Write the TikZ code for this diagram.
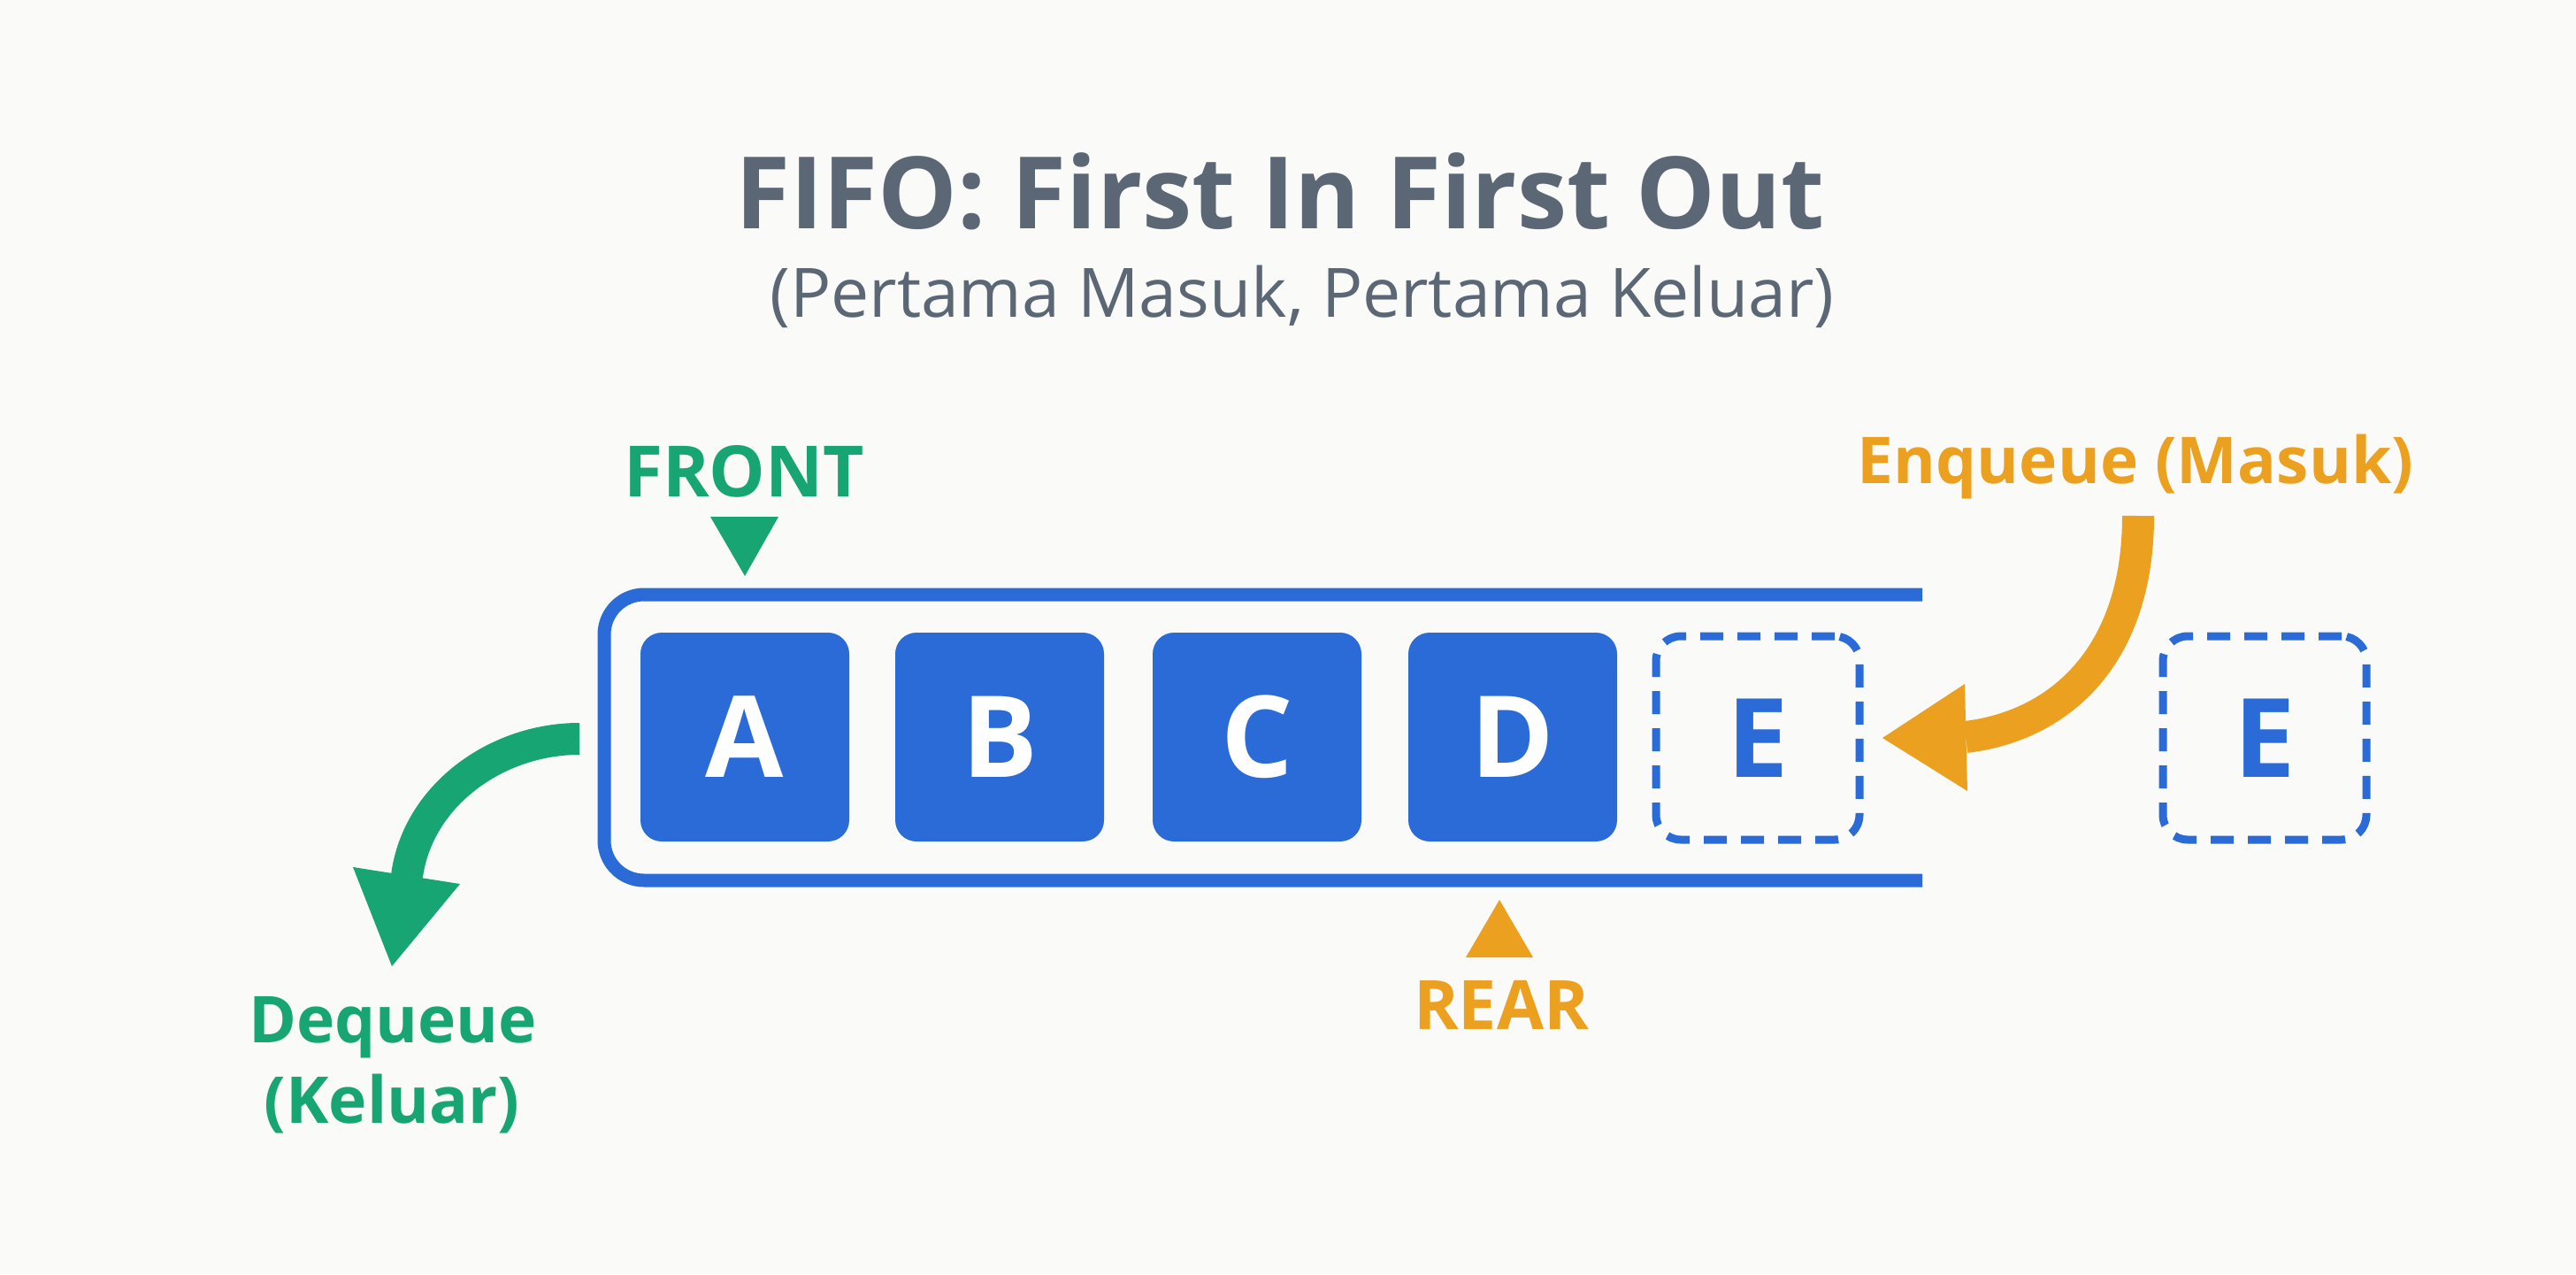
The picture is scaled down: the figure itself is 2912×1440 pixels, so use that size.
\documentclass[tikz,border=0pt]{standalone}
\usepackage{fontspec}
\setmainfont{Open Sans}
\definecolor{qblue}{HTML}{2B6BD8}
\definecolor{qgreen}{HTML}{17A673}
\definecolor{qorange}{HTML}{EBA01F}
\definecolor{qgray}{HTML}{5C6776}
\definecolor{qbg}{HTML}{FAFAF8}
\begin{document}
\begin{tikzpicture}[x=1pt,y=-1pt,
  cell/.style={fill=qblue, rounded corners=24pt, minimum width=236pt, minimum height=236pt, inner sep=0pt, text=white, font=\fontsize{128}{128}\selectfont\bfseries},
  ghost/.style={draw=qblue, line width=9pt, dash pattern=on 26pt off 16pt, rounded corners=28pt, minimum width=230pt, minimum height=230pt, inner sep=0pt, text=qblue, font=\fontsize{124}{124}\selectfont\bfseries},
  lbl/.style={anchor=base, inner sep=0pt, font=\fontsize{#1}{#1}\selectfont\bfseries},
  shaft/.style={line width=36pt, line cap=butt}
]
\fill[qbg] (0,0) rectangle (2912,1440);
\useasboundingbox (0,0) rectangle (2912,1440);

% title
\node[anchor=base, inner sep=0pt, text=qgray, font=\fontsize{113}{113}\selectfont\bfseries] (title) at (1447,258) {FIFO: First In First Out};
\node[anchor=base, inner sep=0pt, text=qgray, font=\fontsize{77}{77}\selectfont] (sub) at (1472,358) {(Pertama Masuk, Pertama Keluar)};

% container
\draw[qblue, line width=15pt, rounded corners=45pt] (2173,672) -- (683,672) -- (683,995) -- (2173,995);

% cells
\node[cell] (A) at (842,833) {A};
\node[cell] (B) at (1130,833) {B};
\node[cell] (C) at (1421,833) {C};
\node[cell] (D) at (1710,833) {D};
\node[ghost] (E1) at (1987,834) {E};
\node[ghost] (E2) at (2560,834) {E};

% FRONT
\node[lbl=80, text=qgreen] (front) at (841,561) {FRONT};
\fill[qgreen] (803,584) -- (880,584) -- (842,651) -- cycle;

% REAR
\node[lbl=77, text=qorange] (rear) at (1697,1163) {REAR};
\fill[qorange] (1657,1082) -- (1733,1082) -- (1695,1017) -- cycle;

% Enqueue
\node[lbl=73, text=qorange] (enq) at (2414,546) {Enqueue (Masuk)};
\coordinate (enqS) at (2417,583);
\coordinate (enqB) at (2222,833);
\draw[qorange, shaft] (enqS) .. controls (2417,740) and (2330,820) .. (enqB);
\fill[qorange] (2221,773) -- (2224,894) -- (2128,834) -- cycle;

% Dequeue
\node[lbl=73, text=qgreen] (deq1) at (444,1178) {Dequeue};
\node[lbl=73, text=qgreen] (deq2) at (443,1269) {(Keluar)};
\coordinate (deqS) at (655,835);
\coordinate (deqB) at (460,990);
\draw[qgreen, shaft] (deqS) .. controls (560,835) and (472,900) .. (deqB);
\fill[qgreen] (399,980) -- (520,999) -- (443,1092) -- cycle;
\end{tikzpicture}
\end{document}
